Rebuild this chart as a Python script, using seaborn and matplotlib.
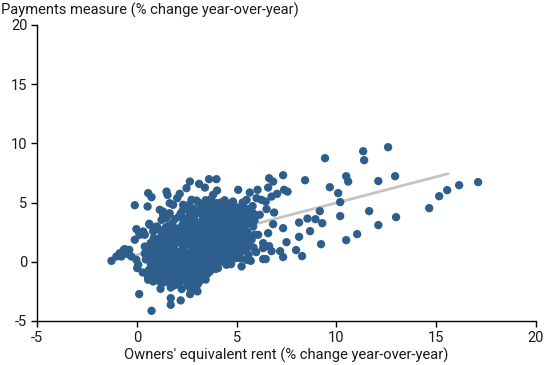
import numpy as np
import pandas as pd
import matplotlib
matplotlib.use("Agg")
import matplotlib.pyplot as plt
import seaborn as sns

# ---- data (OER growth vs payments measure growth, % y/y) ----
oer_outer = [17.10, 16.15, 15.55, 15.15, 14.65, 12.99, 12.10, 12.94, 12.59, 12.10,
             11.34, 11.39, 10.49, 10.59, 9.67, 10.09, 10.19, 11.64, 10.19, 11.04,
             10.49, 9.43, 8.43, 7.33, 6.63, 6.83, 7.38, 7.55, 7.03, 6.58,
             6.05, 5.66, 6.75, 6.46, 6.00, 6.25, 6.88, 6.50, 9.17, 8.55,
             8.95, 8.13, 9.29, 8.68, 8.13, 7.33, 6.83, 9.23, 7.50, 7.98,
             8.28, 7.33, 7.18, 6.58, 6.33, 6.63, 6.75, 6.33, 5.98, 6.33,
             6.46, 5.71, 5.83, 6.16, 5.75, 5.83, 5.91, 6.08, 5.75, 5.50,
             4.99, 5.25, 4.49, 4.07, 3.66, 3.32]
pay_outer = [6.73, 6.47, 6.05, 5.54, 4.53, 3.77, 3.10, 7.23, 9.68, 6.82,
             9.34, 8.58, 7.23, 6.78, 6.30, 5.80, 5.04, 4.28, 3.86, 2.34,
             1.83, 8.75, 6.89, 7.31, 7.06, 6.78, 6.08, 5.93, 5.74, 6.27,
             6.08, 5.85, 5.51, 5.09, 5.37, 5.23, 4.16, 4.45, 4.28, 3.65,
             3.60, 3.32, 3.26, 2.59, 2.11, 2.84, 3.18, 1.49, 1.66, 0.99,
             0.48, 0.40, 0.90, 2.42, 1.58, 1.32, 0.90, 1.16, 0.82, 0.23,
             0.23, 0.08, 4.11, 3.97, 3.82, 2.98, 2.28, 2.28, 1.86, 0.17,
             0.45, -0.39, -0.25, -0.53, -0.82, -1.10]

oer_left = [-0.10, 0.57, 0.74, 0.54, 1.49, 1.54, 1.15, 2.15, 2.02, 2.66,
            2.49, 3.12, 3.41, 3.62, 3.99, 4.02, 3.82, 5.08, 5.50, 2.74,
            2.99, 1.65, 1.82, 2.57, 3.16, 3.99, 4.49, 4.82, 4.99, 2.32,
            1.32, 1.49, -0.02, -0.10, 0.15, 0.40, 0.62, 0.82, 1.02, 0.85,
            1.15, 1.24, 1.32, -0.60, -1.27, -1.02, -0.85, -0.65, -0.44, -0.27,
            -0.77, -0.38, 0.12, 0.32, 0.40, -0.02, 0.07, 0.02, 0.12, 0.74,
            1.70, 1.70, 2.20, 2.67, 3.04, 2.91, 1.19, 1.70, 0.57, 0.82,
            1.15, 2.12, 0.65, 0.99, 1.40, 1.15, 1.49, 0.90, 0.30, 0.45,
            0.40]
pay_left = [4.78, 5.80, 5.46, 4.67, 5.93, 5.65, 4.39, 5.74, 5.37, 6.78,
            6.22, 6.58, 6.27, 6.98, 6.98, 6.02, 5.65, 6.08, 5.23, 5.23,
            5.17, 4.95, 4.81, 4.53, 4.39, 4.95, 4.81, 5.09, 4.39, 4.81,
            3.97, 3.69, 2.76, 1.86, 2.28, 2.28, 3.21, 2.56, 2.93, 2.00,
            1.86, 3.54, 4.24, 1.07, 0.08, 0.45, 0.73, 1.01, 0.65, 0.45,
            0.45, 1.01, 2.42, 2.56, 1.29, 0.17, -0.25, -0.53, -2.73, -4.14,
            -3.07, -3.63, -3.26, -2.73, -2.50, -2.08, -2.28, -2.17, -1.52, -1.66,
            -1.66, -1.94, 3.12, 2.98, 3.69, 2.00, 1.86, 1.70, -0.90, 0.20,
            0.70]

oer_core = [0.55, 0.60, 0.70, 0.58, 0.75, 0.62, 0.80, 0.90, 0.85, 0.95, 0.88, 0.70, 0.95, 0.98, 0.65,
            1.05, 1.10, 1.20, 1.08, 1.25, 1.15, 1.30, 1.40, 1.35, 1.45, 1.30, 1.42, 1.48, 1.38, 1.20, 1.45, 1.10, 1.28,
            1.55, 1.60, 1.70, 1.58, 1.75, 1.62, 1.80, 1.68, 1.85, 1.60, 1.78, 1.90, 1.95, 1.92, 1.98, 1.88, 1.95, 1.90,
            1.97, 1.96, 1.72, 1.55, 1.85, 1.65,
            2.05, 2.10, 2.20, 2.08, 2.25, 2.15, 2.30, 2.18, 2.35, 2.12, 2.28, 2.40, 2.20, 2.45, 2.42, 2.48, 2.38, 2.45,
            2.40, 2.47, 2.42, 2.48, 2.38, 2.46, 2.32, 2.25, 2.10,
            2.55, 2.60, 2.70, 2.58, 2.75, 2.62, 2.80, 2.68, 2.85, 2.60, 2.78, 2.90, 2.65, 2.82, 2.95, 2.92, 2.98, 2.88,
            2.95, 2.90, 2.97, 2.92, 2.98, 2.88, 2.96, 2.72, 2.99, 2.60, 2.70,
            3.05, 3.10, 3.20, 3.08, 3.25, 3.15, 3.30, 3.18, 3.35, 3.12, 3.28, 3.40, 3.20, 3.38, 3.10, 3.45, 3.42, 3.48,
            3.38, 3.45, 3.40, 3.47, 3.42, 3.48, 3.38, 3.46, 3.32, 3.45,
            3.55, 3.60, 3.70, 3.58, 3.75, 3.62, 3.80, 3.68, 3.85, 3.60, 3.78, 3.90, 3.65, 3.95, 3.92, 3.98, 3.88, 3.95,
            3.90, 3.97, 3.92, 3.98, 3.88, 3.72, 3.55,
            4.05, 4.10, 4.20, 4.08, 4.25, 4.15, 4.30, 4.18, 4.35, 4.12, 4.28, 4.40, 4.45, 4.42, 4.48, 4.38, 4.45, 4.40,
            4.47, 4.42, 4.48, 4.38, 4.20,
            4.55, 4.60, 4.70, 4.58, 4.75, 4.62, 4.80, 4.68, 4.85, 4.60, 4.78, 4.95, 4.92, 4.98, 4.88, 4.95, 4.90, 4.97,
            4.92, 4.98, 4.72,
            5.05, 5.10, 5.20, 5.08, 5.25, 5.15, 5.30, 5.18, 5.35, 5.45, 5.42, 5.48, 5.38, 5.45, 5.40, 5.47, 5.20, 5.30,
            5.55, 5.62, 5.58, 5.70, 5.60, 5.85, 5.90, 5.65, 5.80]
pay_core = [-1.20, -0.70, -0.20, 0.30, 0.80, 1.30, -1.00, -0.40, 0.10, 0.60, 1.10, 1.60, -1.40, 1.50, 0.90,
            -1.30, -0.80, -0.30, 0.20, 0.70, 1.20, 1.60, -1.50, -1.00, -0.50, 0.00, 0.40, 1.00, 2.20, 2.60, 2.90, 1.80, -1.80,
            -1.70, -1.20, -0.70, -0.20, 0.30, 0.80, 1.30, 1.80, 2.30, 2.70, 3.20, 3.60, -1.40, -0.90, -0.30, 0.10, 0.60, 1.00,
            1.60, 2.00, 2.50, 3.00, -2.00, 4.10,
            -1.90, -1.40, -0.90, -0.40, 0.10, 0.60, 1.10, 1.60, 2.10, 2.60, 3.10, 3.60, 4.10, -1.60, -1.10, -0.60, -0.10, 0.40,
            0.90, 1.40, 1.90, 2.40, 2.90, 3.30, 4.40, -2.30, 3.80,
            -2.00, -1.50, -1.00, -0.50, 0.00, 0.50, 1.00, 1.50, 2.00, 2.50, 3.00, 3.50, 4.00, 4.50, -1.80, -1.20, -0.70, -0.20,
            0.30, 0.80, 1.30, 1.80, 2.30, 2.70, 3.20, 3.70, 4.10, 4.80, -2.30,
            -1.90, -1.40, -0.90, -0.40, 0.10, 0.60, 1.10, 1.60, 2.10, 2.60, 3.10, 3.60, 4.10, 4.60, 5.00, -1.50, -0.60, -0.10,
            0.40, 0.90, 1.40, 1.90, 2.40, 2.90, 3.30, 3.90, 4.30, 5.20,
            -1.00, -0.40, 0.10, 0.60, 1.10, 1.60, 2.10, 2.60, 3.10, 3.60, 4.10, 4.60, 5.00, -0.60, 0.30, 0.80, 1.30, 1.80,
            2.40, 2.90, 3.40, 3.80, 4.30, 5.30, 2.30,
            -0.20, 0.30, 0.80, 1.30, 1.80, 2.30, 2.80, 3.30, 3.80, 4.30, 4.80, 5.20, -0.10, 0.50, 1.10, 1.50, 2.00, 2.60,
            3.10, 3.60, 4.10, 4.50, 5.00,
            0.10, 0.60, 1.10, 1.60, 2.10, 2.60, 3.10, 3.60, 4.10, 4.50, 5.00, 0.30, 0.90, 1.40, 1.90, 2.40, 2.90, 3.40,
            3.90, 4.60, -0.20,
            0.60, 1.10, 1.70, 2.20, 2.70, 3.20, 3.70, 4.20, 4.70, 0.90, 1.50, 2.00, 2.60, 3.10, 3.60, 4.20, 0.30, 5.00,
            2.50, 3.30, 1.30, 4.50, 0.60, 1.20, 3.50, 2.00, 4.70]

oer_core2 = [0.72, 0.68, 0.82, 0.78,
             1.18, 1.22, 1.33, 1.12, 1.40, 1.25, 1.35,
             1.65, 1.72, 1.82, 1.70, 1.58, 1.75, 1.90, 1.80, 1.62, 1.85,
             2.15, 2.28, 2.20, 2.35, 2.25, 2.32, 2.22, 2.30, 2.18, 2.35, 2.25, 2.40,
             2.65, 2.75, 2.68, 2.82, 2.72, 2.85, 2.75, 2.68, 2.82, 2.70, 2.85, 2.78, 2.80,
             3.15, 3.25, 3.18, 3.32, 3.22, 3.35, 3.25, 3.18, 3.32, 3.22, 3.30, 3.25, 3.30,
             3.65, 3.75, 3.68, 3.82, 3.72, 3.85, 3.70, 3.78, 3.72, 3.80, 3.68, 3.80,
             4.15, 4.25, 4.32, 4.22, 4.30, 4.25, 4.35, 4.28, 4.22, 4.32,
             4.65, 4.75, 4.82, 4.70, 4.82, 4.70, 4.85, 4.75, 4.72, 4.85,
             5.15, 5.28, 5.32, 5.18, 5.32, 5.25, 5.30, 5.12]
pay_core2 = [-1.45, 0.55, 1.35, -0.65,
             -1.05, 0.45, 1.35, -0.05, 0.75, -1.55, 1.95,
             -1.45, -0.45, 0.55, 1.05, 1.55, 2.05, 2.85, -0.95, 2.35, -1.70,
             -1.65, -1.15, -0.15, 0.35, 0.85, 1.35, 1.85, 2.35, 2.85, 3.35, 3.85, -0.40,
             -1.75, -1.25, -0.25, 0.25, 0.75, 1.25, 1.75, 2.25, 2.75, 3.25, 3.75, 4.25, -0.75,
             -1.65, -1.15, -0.15, 0.35, 0.85, 1.35, 1.85, 2.35, 2.85, 3.35, 3.85, 4.40, -0.65,
             -0.70, -0.15, 0.35, 0.85, 1.35, 1.85, 2.35, 2.85, 3.35, 3.85, 4.35, 4.85,
             0.05, 0.55, 1.05, 1.55, 2.05, 2.55, 3.05, 3.55, 4.05, 4.55,
             0.35, 0.85, 1.35, 1.85, 2.35, 2.85, 3.35, 3.85, 4.30, 4.75,
             0.85, 1.35, 1.95, 2.45, 2.95, 3.45, 4.00, 4.50]

# fitted line
fit_x_range = [-0.3, 15.6]
fit_intercept = 0.58
fit_slope = 0.44

x_ticks = [-5, 0, 5, 10, 15, 20]
y_ticks = [-5, 0, 5, 10, 15, 20]

xlabel = "Owners' equivalent rent (% change year-over-year)"
ylabel = "Payments measure (% change year-over-year)"

# ---- build table ----
df = pd.DataFrame({
    "oer": oer_outer + oer_left + oer_core + oer_core2,
    "pay": pay_outer + pay_left + pay_core + pay_core2,
})

sns.set_theme(style="white")
plt.rcParams["font.family"] = ["Roboto", "DejaVu Sans"]

fig = plt.figure(figsize=(5.5, 3.65), dpi=100)
ax = fig.add_axes([37 / 550, 1 - 321 / 365, (536 - 37) / 550, (321 - 25) / 365])

fx = np.array(fit_x_range)
fy = fit_intercept + fit_slope * fx
sns.lineplot(x=fx, y=fy, ax=ax, color="#c4c4c4", linewidth=2.0, zorder=1)

dot_color = "#2e5e8b"
sns.scatterplot(data=df, x="oer", y="pay", ax=ax, color=dot_color, s=36,
                edgecolor="none", linewidth=0, zorder=2, legend=False)

ax.set_xlim(-5, 20)
ax.set_ylim(-5, 20)
ax.set_xticks(x_ticks)
ax.set_yticks(y_ticks)
ax.set_xticklabels([str(t) for t in x_ticks])
ax.set_yticklabels([str(t) for t in y_ticks])
ax.set_xlabel("")
ax.set_ylabel("")

for side in ["top", "right"]:
    ax.spines[side].set_visible(False)
for side in ["left", "bottom"]:
    ax.spines[side].set_color("black")
    ax.spines[side].set_linewidth(1.0)

ax.tick_params(axis="both", which="major", direction="out", length=4, width=1,
               color="black", labelsize=10.5, labelcolor="#1a1a1a", pad=3,
               bottom=True, left=True)

fig.text(1 / 550, 1 - 10 / 365, ylabel, ha="left", va="center", fontsize=10.6, color="#1a1a1a")
fig.text(286.5 / 550, 1 - 355 / 365, xlabel, ha="center", va="center", fontsize=10.6, color="#1a1a1a")

fig.savefig("out.png", dpi=100)
